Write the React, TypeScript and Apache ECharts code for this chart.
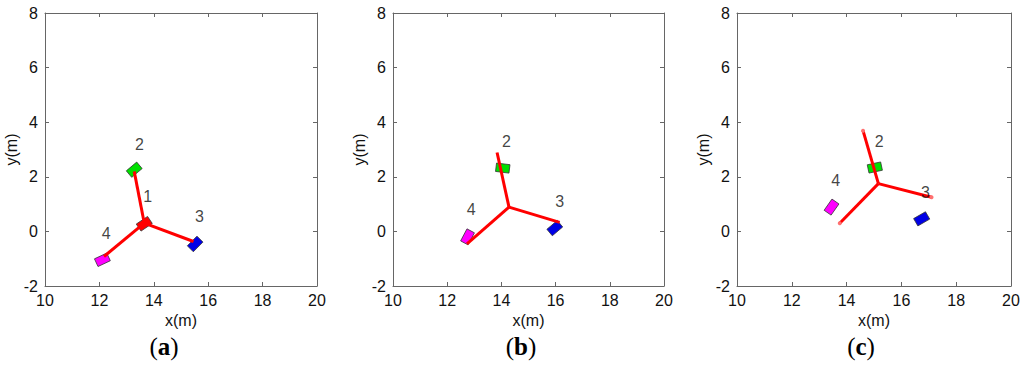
import React, { useEffect, useRef } from "react";
import * as echarts from "echarts";

const panelTitles = ["a", "b", "c"];
const xMin = 10, xMax = 20, xStep = 2;
const yMin = -2, yMax = 8, yStep = 2;

// hub (junction of the red arms), per panel
const hubX = [13.65, 14.28, 15.16];
const hubY = [0.3, 0.89, 1.75];
// arm end points, toward nodes 2, 3, 4
const armEndX = [[13.28, 15.46, 12.17], [13.84, 16.15, 12.73], [14.6, 17.1, 13.75]];
const armEndY = [[2.2, -0.37, -0.92], [2.89, 0.33, -0.46], [3.69, 1.25, 0.3]];
// nodes 1 (red, panel a only), 2 green, 3 blue, 4 magenta
const nodeNames = ["1", "2", "3", "4"];
const nodeColors = ["#ff0000", "#00e000", "#0000e6", "#ff00ff"];
const nodeX = [[13.65, 13.28, 15.52, 12.11], [null, 14.05, 15.97, 12.75], [null, 15.03, 16.74, 13.45]];
const nodeY = [[0.28, 2.26, -0.46, -1.04], [null, 2.32, 0.12, -0.2], [null, 2.34, 0.46, 0.89]];
const nodeAngle = [[34, 40, 45, 25], [0, -7, 40, 62], [0, 12, 30, 55]];
const labelX = [[13.78, 13.47, 15.68, 12.25], [null, 14.19, 16.15, 12.89], [null, 15.19, 16.88, 13.6]];
const labelY = [[1.28, 3.2, 0.53, -0.06], [null, 3.3, 1.1, 0.79], [null, 3.3, 1.44, 1.87]];

const RW = 0.5;
const RH = 0.31;

const grids = [
  { left: 45, top: 13, width: 272, height: 273 },
  { left: 393, top: 13, width: 271, height: 273 },
  { left: 737, top: 13, width: 274, height: 273 },
];
const titleCenters = [164, 521, 861];

export default function App() {
  const ref = useRef<HTMLDivElement>(null);
  useEffect(() => {
    document.body.style.margin = "0";
    const chart = echarts.init(ref.current!, null, { renderer: "svg" });
    const xAxes: any[] = [];
    const yAxes: any[] = [];
    const series: any[] = [];
    const axisColor = "#666";
    const font = "Liberation Sans, Arial, sans-serif";
    grids.forEach((g, i) => {
      const common = {
        type: "value",
        gridIndex: i,
        axisLine: { show: true, onZero: false, lineStyle: { color: axisColor, width: 1 } },
        axisTick: { show: true, inside: true, length: 4, lineStyle: { color: axisColor } },
        splitLine: { show: false },
      };
      xAxes.push({
        ...common, min: xMin, max: xMax, interval: xStep, position: "bottom",
        axisLabel: { color: "#111", fontSize: 16, fontFamily: font, margin: 6 },
        name: "x(m)", nameLocation: "middle", nameGap: 25,
        nameTextStyle: { color: "#111", fontSize: 16, fontFamily: font },
      });
      xAxes.push({ ...common, min: xMin, max: xMax, interval: xStep, position: "top", axisLabel: { show: false } });
      yAxes.push({
        ...common, min: yMin, max: yMax, interval: yStep, position: "left",
        axisLabel: { color: "#111", fontSize: 16, fontFamily: font, margin: 7 },
        name: "y(m)", nameLocation: "middle", nameGap: 25, nameRotate: 90,
        nameTextStyle: { color: "#111", fontSize: 16, fontFamily: font },
      });
      yAxes.push({ ...common, min: yMin, max: yMax, interval: yStep, position: "right", axisLabel: { show: false } });

      const rects: any[] = [];
      const labels: any[] = [];
      for (let k = 0; k < 4; k++) {
        if (nodeX[i][k] === null) continue;
        rects.push([nodeX[i][k], nodeY[i][k], nodeAngle[i][k], k]);
        labels.push({ value: [labelX[i][k], labelY[i][k]], name: nodeNames[k] });
      }
      series.push({
        type: "custom",
        xAxisIndex: 2 * i,
        yAxisIndex: 2 * i,
        z: 2,
        data: rects,
        renderItem: (params: any, api: any) => {
          const cx = api.value(0), cy = api.value(1);
          const a = (api.value(2) * Math.PI) / 180;
          const ci = api.value(3);
          const pts = [[-1, -1], [1, -1], [1, 1], [-1, 1]].map(([sx, sy]) => {
            const dx = (sx * RW) / 2, dy = (sy * RH) / 2;
            return api.coord([cx + dx * Math.cos(a) - dy * Math.sin(a), cy + dx * Math.sin(a) + dy * Math.cos(a)]);
          });
          return {
            type: "polygon",
            shape: { points: pts },
            style: { fill: nodeColors[ci], stroke: "#333", lineWidth: 0.8 },
          };
        },
      });
      for (let j = 0; j < 3; j++) {
        const endItem: any = { value: [armEndX[i][j], armEndY[i][j]] };
        if (i === 2) {
          endItem.symbol = "circle";
          endItem.symbolSize = 4;
          endItem.itemStyle = { color: "#ff7070" };
        }
        series.push({
          type: "line",
          xAxisIndex: 2 * i,
          yAxisIndex: 2 * i,
          z: 3,
          symbol: "none",
          showSymbol: true,
          lineStyle: { color: "#ff0000", width: 3 },
          itemStyle: { color: "#ff0000" },
          data: [{ value: [hubX[i], hubY[i]] }, endItem],
        });
      }
      series.push({
        type: "scatter",
        xAxisIndex: 2 * i,
        yAxisIndex: 2 * i,
        z: 4,
        symbolSize: 0,
        data: labels,
        label: { show: true, position: "inside", formatter: "{b}", color: "#111", fontSize: 16, fontFamily: font },
      });
    });

    chart.setOption({
      animation: false,
      grid: grids,
      xAxis: xAxes,
      yAxis: yAxes,
      series,
      graphic: panelTitles.map((t, i) => ({
        type: "text",
        x: titleCenters[i],
        y: 346,
        style: {
          text: "{p|(}{b|" + t + "}{p|)}",
          align: "center",
          verticalAlign: "middle",
          rich: {
            p: { fontSize: 25, fontFamily: "Liberation Serif, Times New Roman, serif", fill: "#000" },
            b: { fontSize: 25, fontWeight: "bold", fontFamily: "Liberation Serif, Times New Roman, serif", fill: "#000" },
          },
        },
      })),
    });
    return () => chart.dispose();
  }, []);
  return <div ref={ref} style={{ width: 1024, height: 373 }} />;
}
